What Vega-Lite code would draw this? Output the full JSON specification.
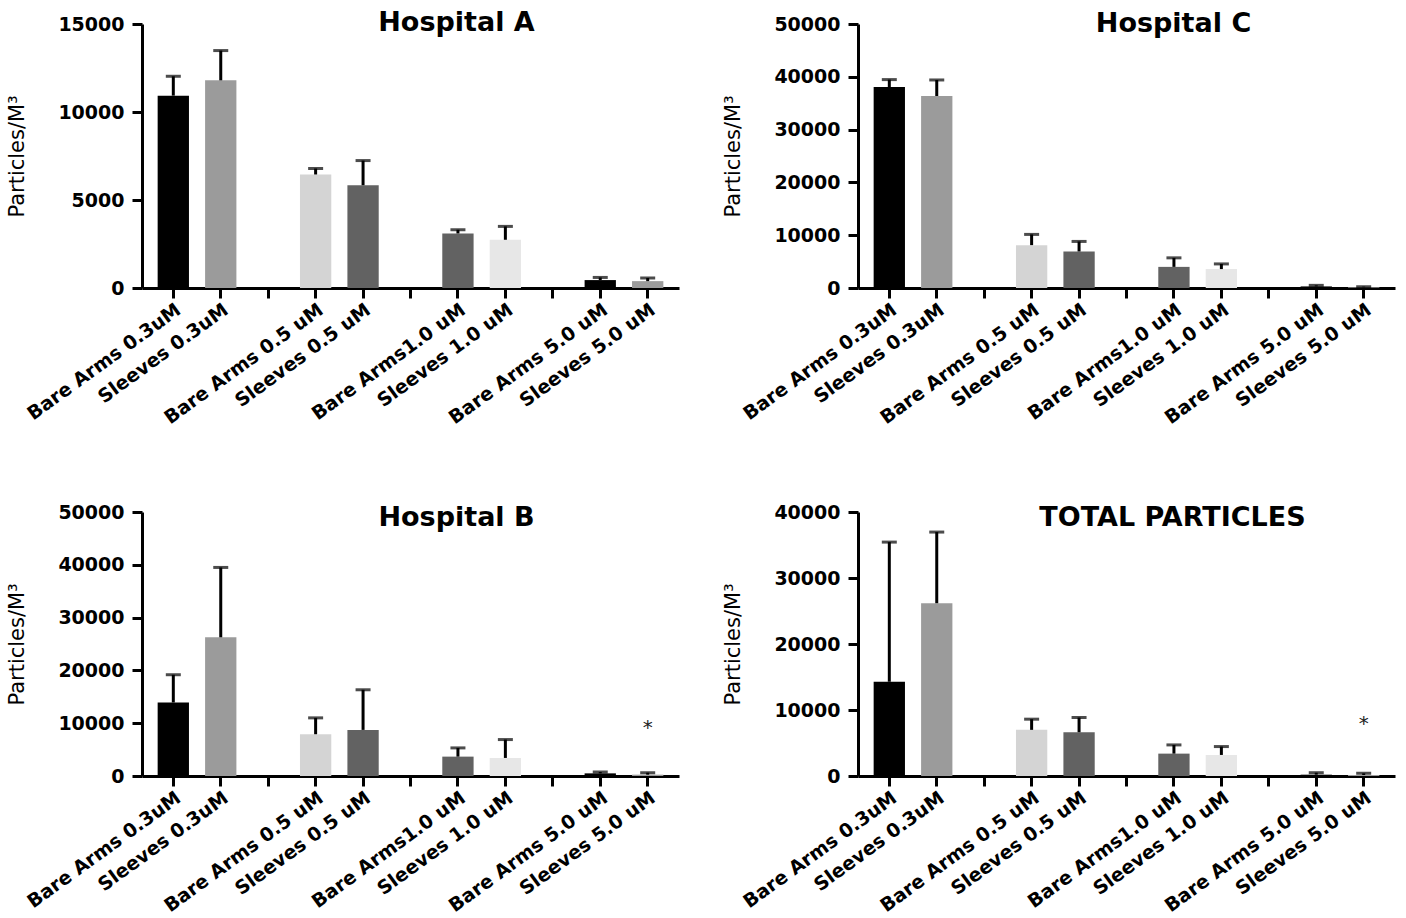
{
  "$schema": "https://vega.github.io/schema/vega-lite/v6.json",
  "padding": {"left": 6, "top": 9, "right": 5, "bottom": 2},
  "background": "white",
  "config": {
    "view": {"stroke": null},
    "font": "DejaVu Sans",
    "axis": {"domainColor": "black", "domainWidth": 3, "tickColor": "black", "tickWidth": 3, "tickSize": 10, "labelColor": "black", "labelFont": "DejaVu Sans", "labelFontWeight": "bold", "labelFontSize": 19, "titleColor": "black", "titleFont": "DejaVu Sans", "titleFontWeight": "normal", "titleFontSize": 21, "grid": false},
    "axisX": {"labelAngle": -36, "labelAlign": "right", "labelBaseline": "top", "labelPadding": 2, "bandPosition": 0.5, "labelOverlap": false, "labelLimit": 0},
    "axisY": {"labelPadding": 8, "titlePadding": 34, "titleBaseline": "alphabetic"},
    "title": {"font": "DejaVu Sans", "fontSize": 27, "fontWeight": "bold", "color": "black", "anchor": "middle", "frame": "group", "offset": 0, "baseline": "alphabetic"}
  },
  "datasets": {
    "bars": [
      {"p": "A", "c": "Bare Arms 0.3uM", "m": 10930, "u": 12030},
      {"p": "A", "c": "Sleeves 0.3uM", "m": 11800, "u": 13490},
      {"p": "A", "c": "Bare Arms 0.5 uM", "m": 6450, "u": 6790},
      {"p": "A", "c": "Sleeves 0.5 uM", "m": 5840, "u": 7240},
      {"p": "A", "c": "Bare Arms1.0 uM", "m": 3100, "u": 3310},
      {"p": "A", "c": "Sleeves 1.0 uM", "m": 2740, "u": 3500},
      {"p": "A", "c": "Bare Arms 5.0 uM", "m": 450, "u": 600},
      {"p": "A", "c": "Sleeves 5.0 uM", "m": 390, "u": 570},
      {"p": "C", "c": "Bare Arms 0.3uM", "m": 38070, "u": 39470},
      {"p": "C", "c": "Sleeves 0.3uM", "m": 36360, "u": 39400},
      {"p": "C", "c": "Bare Arms 0.5 uM", "m": 8120, "u": 10150},
      {"p": "C", "c": "Sleeves 0.5 uM", "m": 6920, "u": 8820},
      {"p": "C", "c": "Bare Arms1.0 uM", "m": 4000, "u": 5710},
      {"p": "C", "c": "Sleeves 1.0 uM", "m": 3580, "u": 4560},
      {"p": "C", "c": "Bare Arms 5.0 uM", "m": 300, "u": 500},
      {"p": "C", "c": "Sleeves 5.0 uM", "m": 130, "u": 250},
      {"p": "B", "c": "Bare Arms 0.3uM", "m": 13920, "u": 19180},
      {"p": "B", "c": "Sleeves 0.3uM", "m": 26270, "u": 39500},
      {"p": "B", "c": "Bare Arms 0.5 uM", "m": 7910, "u": 11010},
      {"p": "B", "c": "Sleeves 0.5 uM", "m": 8730, "u": 16330},
      {"p": "B", "c": "Bare Arms1.0 uM", "m": 3670, "u": 5320},
      {"p": "B", "c": "Sleeves 1.0 uM", "m": 3420, "u": 6900},
      {"p": "B", "c": "Bare Arms 5.0 uM", "m": 500, "u": 760},
      {"p": "B", "c": "Sleeves 5.0 uM", "m": 250, "u": 630},
      {"p": "T", "c": "Bare Arms 0.3uM", "m": 14280, "u": 35440},
      {"p": "T", "c": "Sleeves 0.3uM", "m": 26180, "u": 36960},
      {"p": "T", "c": "Bare Arms 0.5 uM", "m": 6990, "u": 8610},
      {"p": "T", "c": "Sleeves 0.5 uM", "m": 6630, "u": 8860},
      {"p": "T", "c": "Bare Arms1.0 uM", "m": 3390, "u": 4710},
      {"p": "T", "c": "Sleeves 1.0 uM", "m": 3190, "u": 4460},
      {"p": "T", "c": "Bare Arms 5.0 uM", "m": 200, "u": 500},
      {"p": "T", "c": "Sleeves 5.0 uM", "m": 150, "u": 400}
    ],
    "stars": [
      {"p": "B", "c": "Sleeves 5.0 uM", "s": 9100, "t": "*"},
      {"p": "T", "c": "Sleeves 5.0 uM", "s": 7850, "t": "*"}
    ]
  },
  "columns": 2,
  "spacing": {"column": 43, "row": 75},
  "concat": [
    {
      "width": 537, "height": 264,
      "title": {"text": "Hospital  A", "dx": 46, "dy": 26},
      "data": {"name": "bars"},
      "transform": [{"filter": "datum.p === 'A'"}],
      "encoding": {
        "x": {"field": "c", "type": "nominal", "sort": null,
          "scale": {"domain": ["Bare Arms 0.3uM", "Sleeves 0.3uM", "gap1", "Bare Arms 0.5 uM", "Sleeves 0.5 uM", "gap2", "Bare Arms1.0 uM", "Sleeves 1.0 uM", "gap3", "Bare Arms 5.0 uM", "Sleeves 5.0 uM"], "paddingInner": 0.34, "paddingOuter": 0.33},
          "axis": {"title": null, "labelExpr": "indexof(datum.value, 'gap') === 0 ? '' : datum.label"}}
      },
      "layer": [
        {"mark": {"type": "bar"},
         "encoding": {
           "y": {"field": "m", "type": "quantitative", "scale": {"domain": [0, 15000]}, "axis": {"title": "Particles/M³", "values": [0, 5000, 10000, 15000], "format": "d"}},
           "color": {"field": "c", "type": "nominal", "legend": null, "scale": {"domain": ["Bare Arms 0.3uM", "Sleeves 0.3uM", "Bare Arms 0.5 uM", "Sleeves 0.5 uM", "Bare Arms1.0 uM", "Sleeves 1.0 uM", "Bare Arms 5.0 uM", "Sleeves 5.0 uM"], "range": ["#000000", "#9b9b9b", "#d4d4d4", "#626262", "#626262", "#e7e7e7", "#000000", "#9b9b9b"]}}
         }},
        {"mark": {"type": "rule", "color": "black", "strokeWidth": 3},
         "encoding": {"y": {"field": "m", "type": "quantitative", "scale": {"domain": [0, 15000]}}, "y2": {"field": "u"}}},
        {"mark": {"type": "tick", "color": "black", "thickness": 3, "size": 15},
         "encoding": {"y": {"field": "u", "type": "quantitative", "scale": {"domain": [0, 15000]}}}}
      ]
    },
    {
      "width": 537, "height": 264,
      "title": {"text": "Hospital  C", "dx": 47, "dy": 27},
      "data": {"name": "bars"},
      "transform": [{"filter": "datum.p === 'C'"}],
      "encoding": {
        "x": {"field": "c", "type": "nominal", "sort": null,
          "scale": {"domain": ["Bare Arms 0.3uM", "Sleeves 0.3uM", "gap1", "Bare Arms 0.5 uM", "Sleeves 0.5 uM", "gap2", "Bare Arms1.0 uM", "Sleeves 1.0 uM", "gap3", "Bare Arms 5.0 uM", "Sleeves 5.0 uM"], "paddingInner": 0.34, "paddingOuter": 0.33},
          "axis": {"title": null, "labelExpr": "indexof(datum.value, 'gap') === 0 ? '' : datum.label"}}
      },
      "layer": [
        {"mark": {"type": "bar"},
         "encoding": {
           "y": {"field": "m", "type": "quantitative", "scale": {"domain": [0, 50000]}, "axis": {"title": "Particles/M³", "values": [0, 10000, 20000, 30000, 40000, 50000], "format": "d"}},
           "color": {"field": "c", "type": "nominal", "legend": null, "scale": {"domain": ["Bare Arms 0.3uM", "Sleeves 0.3uM", "Bare Arms 0.5 uM", "Sleeves 0.5 uM", "Bare Arms1.0 uM", "Sleeves 1.0 uM", "Bare Arms 5.0 uM", "Sleeves 5.0 uM"], "range": ["#000000", "#9b9b9b", "#d4d4d4", "#626262", "#626262", "#e7e7e7", "#000000", "#9b9b9b"]}}
         }},
        {"mark": {"type": "rule", "color": "black", "strokeWidth": 3},
         "encoding": {"y": {"field": "m", "type": "quantitative", "scale": {"domain": [0, 50000]}}, "y2": {"field": "u"}}},
        {"mark": {"type": "tick", "color": "black", "thickness": 3, "size": 15},
         "encoding": {"y": {"field": "u", "type": "quantitative", "scale": {"domain": [0, 50000]}}}}
      ]
    },
    {
      "width": 537, "height": 264,
      "title": {"text": "Hospital  B", "dx": 46, "dy": 33},
      "data": {"name": "bars"},
      "transform": [{"filter": "datum.p === 'B'"}],
      "encoding": {
        "x": {"field": "c", "type": "nominal", "sort": null,
          "scale": {"domain": ["Bare Arms 0.3uM", "Sleeves 0.3uM", "gap1", "Bare Arms 0.5 uM", "Sleeves 0.5 uM", "gap2", "Bare Arms1.0 uM", "Sleeves 1.0 uM", "gap3", "Bare Arms 5.0 uM", "Sleeves 5.0 uM"], "paddingInner": 0.34, "paddingOuter": 0.33},
          "axis": {"title": null, "labelExpr": "indexof(datum.value, 'gap') === 0 ? '' : datum.label"}}
      },
      "layer": [
        {"mark": {"type": "bar"},
         "encoding": {
           "y": {"field": "m", "type": "quantitative", "scale": {"domain": [0, 50000]}, "axis": {"title": "Particles/M³", "values": [0, 10000, 20000, 30000, 40000, 50000], "format": "d"}},
           "color": {"field": "c", "type": "nominal", "legend": null, "scale": {"domain": ["Bare Arms 0.3uM", "Sleeves 0.3uM", "Bare Arms 0.5 uM", "Sleeves 0.5 uM", "Bare Arms1.0 uM", "Sleeves 1.0 uM", "Bare Arms 5.0 uM", "Sleeves 5.0 uM"], "range": ["#000000", "#9b9b9b", "#d4d4d4", "#626262", "#626262", "#e7e7e7", "#000000", "#9b9b9b"]}}
         }},
        {"mark": {"type": "rule", "color": "black", "strokeWidth": 3},
         "encoding": {"y": {"field": "m", "type": "quantitative", "scale": {"domain": [0, 50000]}}, "y2": {"field": "u"}}},
        {"mark": {"type": "tick", "color": "black", "thickness": 3, "size": 15},
         "encoding": {"y": {"field": "u", "type": "quantitative", "scale": {"domain": [0, 50000]}}}},
        {"data": {"name": "stars"},
         "transform": [{"filter": "datum.p === 'B'"}],
         "mark": {"type": "text", "fontSize": 20, "color": "#222222", "baseline": "middle"},
         "encoding": {"y": {"field": "s", "type": "quantitative", "scale": {"domain": [0, 50000]}}, "text": {"field": "t"}}}
      ]
    },
    {
      "width": 537, "height": 264,
      "title": {"text": "TOTAL PARTICLES", "dx": 46, "dy": 33},
      "data": {"name": "bars"},
      "transform": [{"filter": "datum.p === 'T'"}],
      "encoding": {
        "x": {"field": "c", "type": "nominal", "sort": null,
          "scale": {"domain": ["Bare Arms 0.3uM", "Sleeves 0.3uM", "gap1", "Bare Arms 0.5 uM", "Sleeves 0.5 uM", "gap2", "Bare Arms1.0 uM", "Sleeves 1.0 uM", "gap3", "Bare Arms 5.0 uM", "Sleeves 5.0 uM"], "paddingInner": 0.34, "paddingOuter": 0.33},
          "axis": {"title": null, "labelExpr": "indexof(datum.value, 'gap') === 0 ? '' : datum.label"}}
      },
      "layer": [
        {"mark": {"type": "bar"},
         "encoding": {
           "y": {"field": "m", "type": "quantitative", "scale": {"domain": [0, 40000]}, "axis": {"title": "Particles/M³", "values": [0, 10000, 20000, 30000, 40000], "format": "d"}},
           "color": {"field": "c", "type": "nominal", "legend": null, "scale": {"domain": ["Bare Arms 0.3uM", "Sleeves 0.3uM", "Bare Arms 0.5 uM", "Sleeves 0.5 uM", "Bare Arms1.0 uM", "Sleeves 1.0 uM", "Bare Arms 5.0 uM", "Sleeves 5.0 uM"], "range": ["#000000", "#9b9b9b", "#d4d4d4", "#626262", "#626262", "#e7e7e7", "#000000", "#9b9b9b"]}}
         }},
        {"mark": {"type": "rule", "color": "black", "strokeWidth": 3},
         "encoding": {"y": {"field": "m", "type": "quantitative", "scale": {"domain": [0, 40000]}}, "y2": {"field": "u"}}},
        {"mark": {"type": "tick", "color": "black", "thickness": 3, "size": 15},
         "encoding": {"y": {"field": "u", "type": "quantitative", "scale": {"domain": [0, 40000]}}}},
        {"data": {"name": "stars"},
         "transform": [{"filter": "datum.p === 'T'"}],
         "mark": {"type": "text", "fontSize": 20, "color": "#222222", "baseline": "middle"},
         "encoding": {"y": {"field": "s", "type": "quantitative", "scale": {"domain": [0, 40000]}}, "text": {"field": "t"}}}
      ]
    }
  ]
}
